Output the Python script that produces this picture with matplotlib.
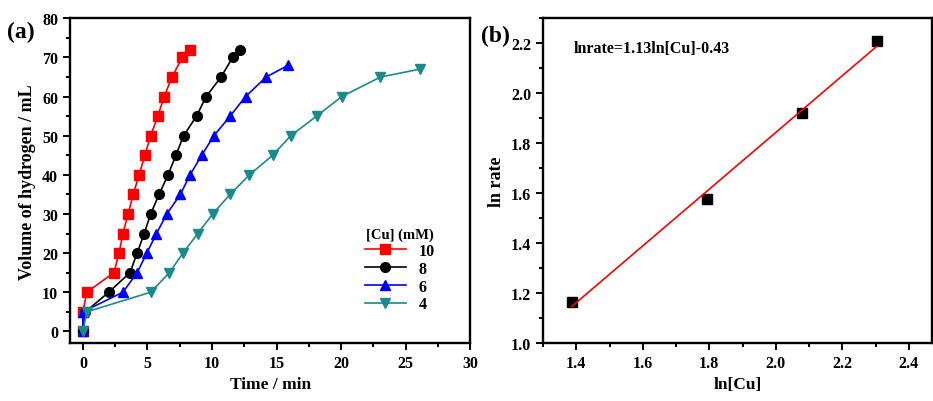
#### Workspace setup ####
import numpy as np
import matplotlib
matplotlib.use('Agg')
import matplotlib.pyplot as plt
from matplotlib.ticker import AutoMinorLocator

plt.rcParams['font.family'] = ['Liberation Serif', 'DejaVu Serif']
plt.rcParams['font.weight'] = 'bold'
plt.rcParams['axes.labelweight'] = 'bold'

#### Data ####
# panel (a): volume of hydrogen vs time for each [Cu]
t_10 = [0, 0, 0.3, 2.4, 2.8, 3.1, 3.5, 3.9, 4.35, 4.8, 5.25, 5.8, 6.3, 6.9, 7.7, 8.3]
v_10 = [0, 5, 10, 15, 20, 25, 30, 35, 40, 45, 50, 55, 60, 65, 70, 72]
t_8 = [0, 0.2, 2.0, 3.65, 4.2, 4.75, 5.25, 5.9, 6.6, 7.2, 7.8, 8.8, 9.55, 10.7, 11.6, 12.2]
v_8 = [0, 5, 10, 15, 20, 25, 30, 35, 40, 45, 50, 55, 60, 65, 70, 72]
t_6 = [0, 0, 3.1, 4.2, 4.95, 5.7, 6.5, 7.55, 8.3, 9.2, 10.15, 11.4, 12.6, 14.2, 15.9]
v_6 = [0, 5, 10, 15, 20, 25, 30, 35, 40, 45, 50, 55, 60, 65, 68]
t_4 = [0, 0.3, 5.25, 6.7, 7.75, 8.9, 10.05, 11.4, 12.9, 14.7, 16.1, 18.1, 20.05, 23.05, 26.1]
v_4 = [0, 5, 10, 15, 20, 25, 30, 35, 40, 45, 50, 55, 60, 65, 67]

# panel (b): ln rate vs ln[Cu]
ln_cu = [1.386, 1.792, 2.079, 2.303]
ln_rate = [1.165, 1.578, 1.922, 2.208]


def style_axis(ax):
    for sp in ax.spines.values():
        sp.set_linewidth(1.7)
    ax.tick_params(which='both', direction='out', top=False, right=False, width=1.4, labelsize=11.5)
    ax.tick_params(which='major', length=5)
    ax.tick_params(which='minor', length=3)
    ax.xaxis.set_minor_locator(AutoMinorLocator(2))
    ax.yaxis.set_minor_locator(AutoMinorLocator(2))


fig = plt.figure(figsize=(9.33, 4.02), dpi=100)

#### Panel (a) ####
ax1 = fig.add_axes([0.075, 0.144, 0.429, 0.808])
series = [
    (t_10, v_10, 'red', 's', '10'),
    (t_8, v_8, 'black', 'o', '8'),
    (t_6, v_6, 'blue', '^', '6'),
    (t_4, v_4, '#1a8a8a', 'v', '4'),
]
for t, v, c, m, lab in series:
    ax1.plot(t, v, color=c, marker=m, markersize=7, linewidth=1.2, label=lab)
ax1.set_xlim(-1, 30)
ax1.set_ylim(-3, 80)
ax1.set_xticks(range(0, 31, 5))
ax1.set_yticks(range(0, 81, 10))
ax1.set_xlabel('Time / min', fontsize=12.5)
ax1.set_ylabel('Volume of hydrogen / mL', fontsize=13)
style_axis(ax1)
leg = ax1.legend(title='[Cu] (mM)', loc='lower right', bbox_to_anchor=(0.94, 0.06),
                 frameon=False, fontsize=11.5, title_fontsize=10.5,
                 handlelength=2.6, labelspacing=0.12, borderpad=0.2)
leg.get_title().set_fontweight('bold')
fig.text(0.008, 0.905, '(a)', fontsize=17, fontweight='bold')

#### Panel (b) ####
ax2 = fig.add_axes([0.582, 0.144, 0.417, 0.808])
ax2.plot(ln_cu, ln_rate, linestyle='none', marker='s', color='black', markersize=7)
slope, icpt = np.polyfit(ln_cu, ln_rate, 1)
xf = np.array([ln_cu[0], ln_cu[-1]])
ax2.plot(xf, slope * xf + icpt, color='red', linewidth=1.2)
ax2.set_xlim(1.3, 2.47)
ax2.set_ylim(1.0, 2.3)
ax2.set_xticks([1.4, 1.6, 1.8, 2.0, 2.2, 2.4])
ax2.set_yticks([1.0, 1.2, 1.4, 1.6, 1.8, 2.0, 2.2])
ax2.set_xlabel('ln[Cu]', fontsize=12.5)
ax2.set_ylabel('ln rate', fontsize=13)
style_axis(ax2)
ax2.text(0.08, 0.91, 'lnrate=1.13ln[Cu]-0.43', transform=ax2.transAxes,
         fontsize=11.5, fontweight='bold', va='center')
fig.text(0.516, 0.895, '(b)', fontsize=17, fontweight='bold')

fig.savefig('out.png', dpi=100)
